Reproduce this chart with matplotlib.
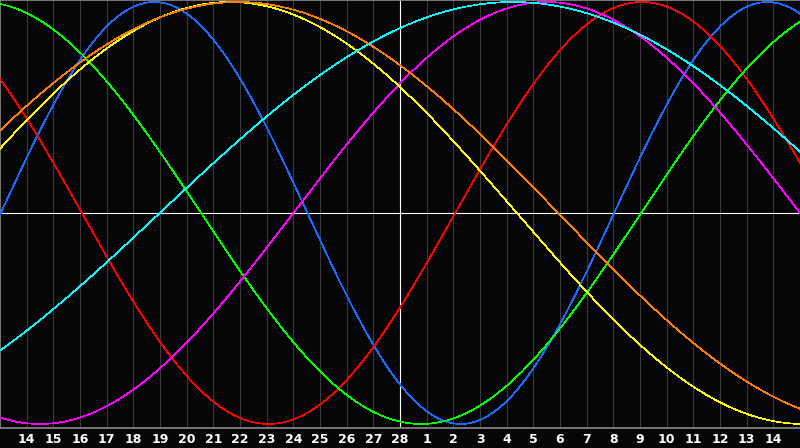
import numpy as np
import matplotlib
matplotlib.use("Agg")
import matplotlib.pyplot as plt

# day labels under the grid (end of February -> middle of March)
day_labels = [str(d) for d in range(14, 29)] + [str(d) for d in range(1, 15)]
first_day = 13      # left edge of the chart (continuous day index)
last_day = 43       # right edge
today = 28          # white vertical marker

# cycles: length in days and day of the peak
cycle_len = [23, 28, 33, 38, 43, 48, 53]
peak_day = [18.78, 37.07, 12.29, 33.5, 21.63, 21.93, 32.24]
cycle_colors = ["#1a6cff", "#ff0000", "#00ff00", "#ff00ff",
                "#ffff00", "#ff8000", "#00ffff"]

bg = "#060508"

fig = plt.figure(figsize=(8, 4.48), dpi=100, facecolor=bg)
ax = fig.add_axes([0, 20 / 448, 1, 428 / 448])
ax.set_facecolor(bg)

t = np.linspace(first_day, last_day, 1200)
for n, p, c in zip(cycle_len, peak_day, cycle_colors):
    ax.plot(t, np.cos(2 * np.pi * (t - p) / n), color=c, lw=0.5,
            antialiased=False, zorder=3)

# day grid
ticks = list(range(first_day + 1, last_day))
for d in ticks:
    if d != today:
        ax.axvline(d, color="#3a3a3a", lw=0.8, zorder=1)
ax.axvline(today, color="white", lw=0.8, zorder=2)
ax.axhline(0, color="white", lw=0.8, zorder=2)

ax.set_xlim(first_day, last_day)
ax.set_ylim(-1.019, 1.0095)
ax.set_xticks(ticks)
ax.set_xticklabels(day_labels, color="white", fontsize=9,
                   fontweight="bold", family="DejaVu Sans")
ax.tick_params(axis="x", length=0, pad=3.5)
ax.set_yticks([])

for s in ["top", "left", "bottom"]:
    ax.spines[s].set_color("#8a8a8a")
    ax.spines[s].set_linewidth(1.2)
ax.spines["right"].set_visible(False)

fig.savefig("out.png", dpi=100, facecolor=bg)
